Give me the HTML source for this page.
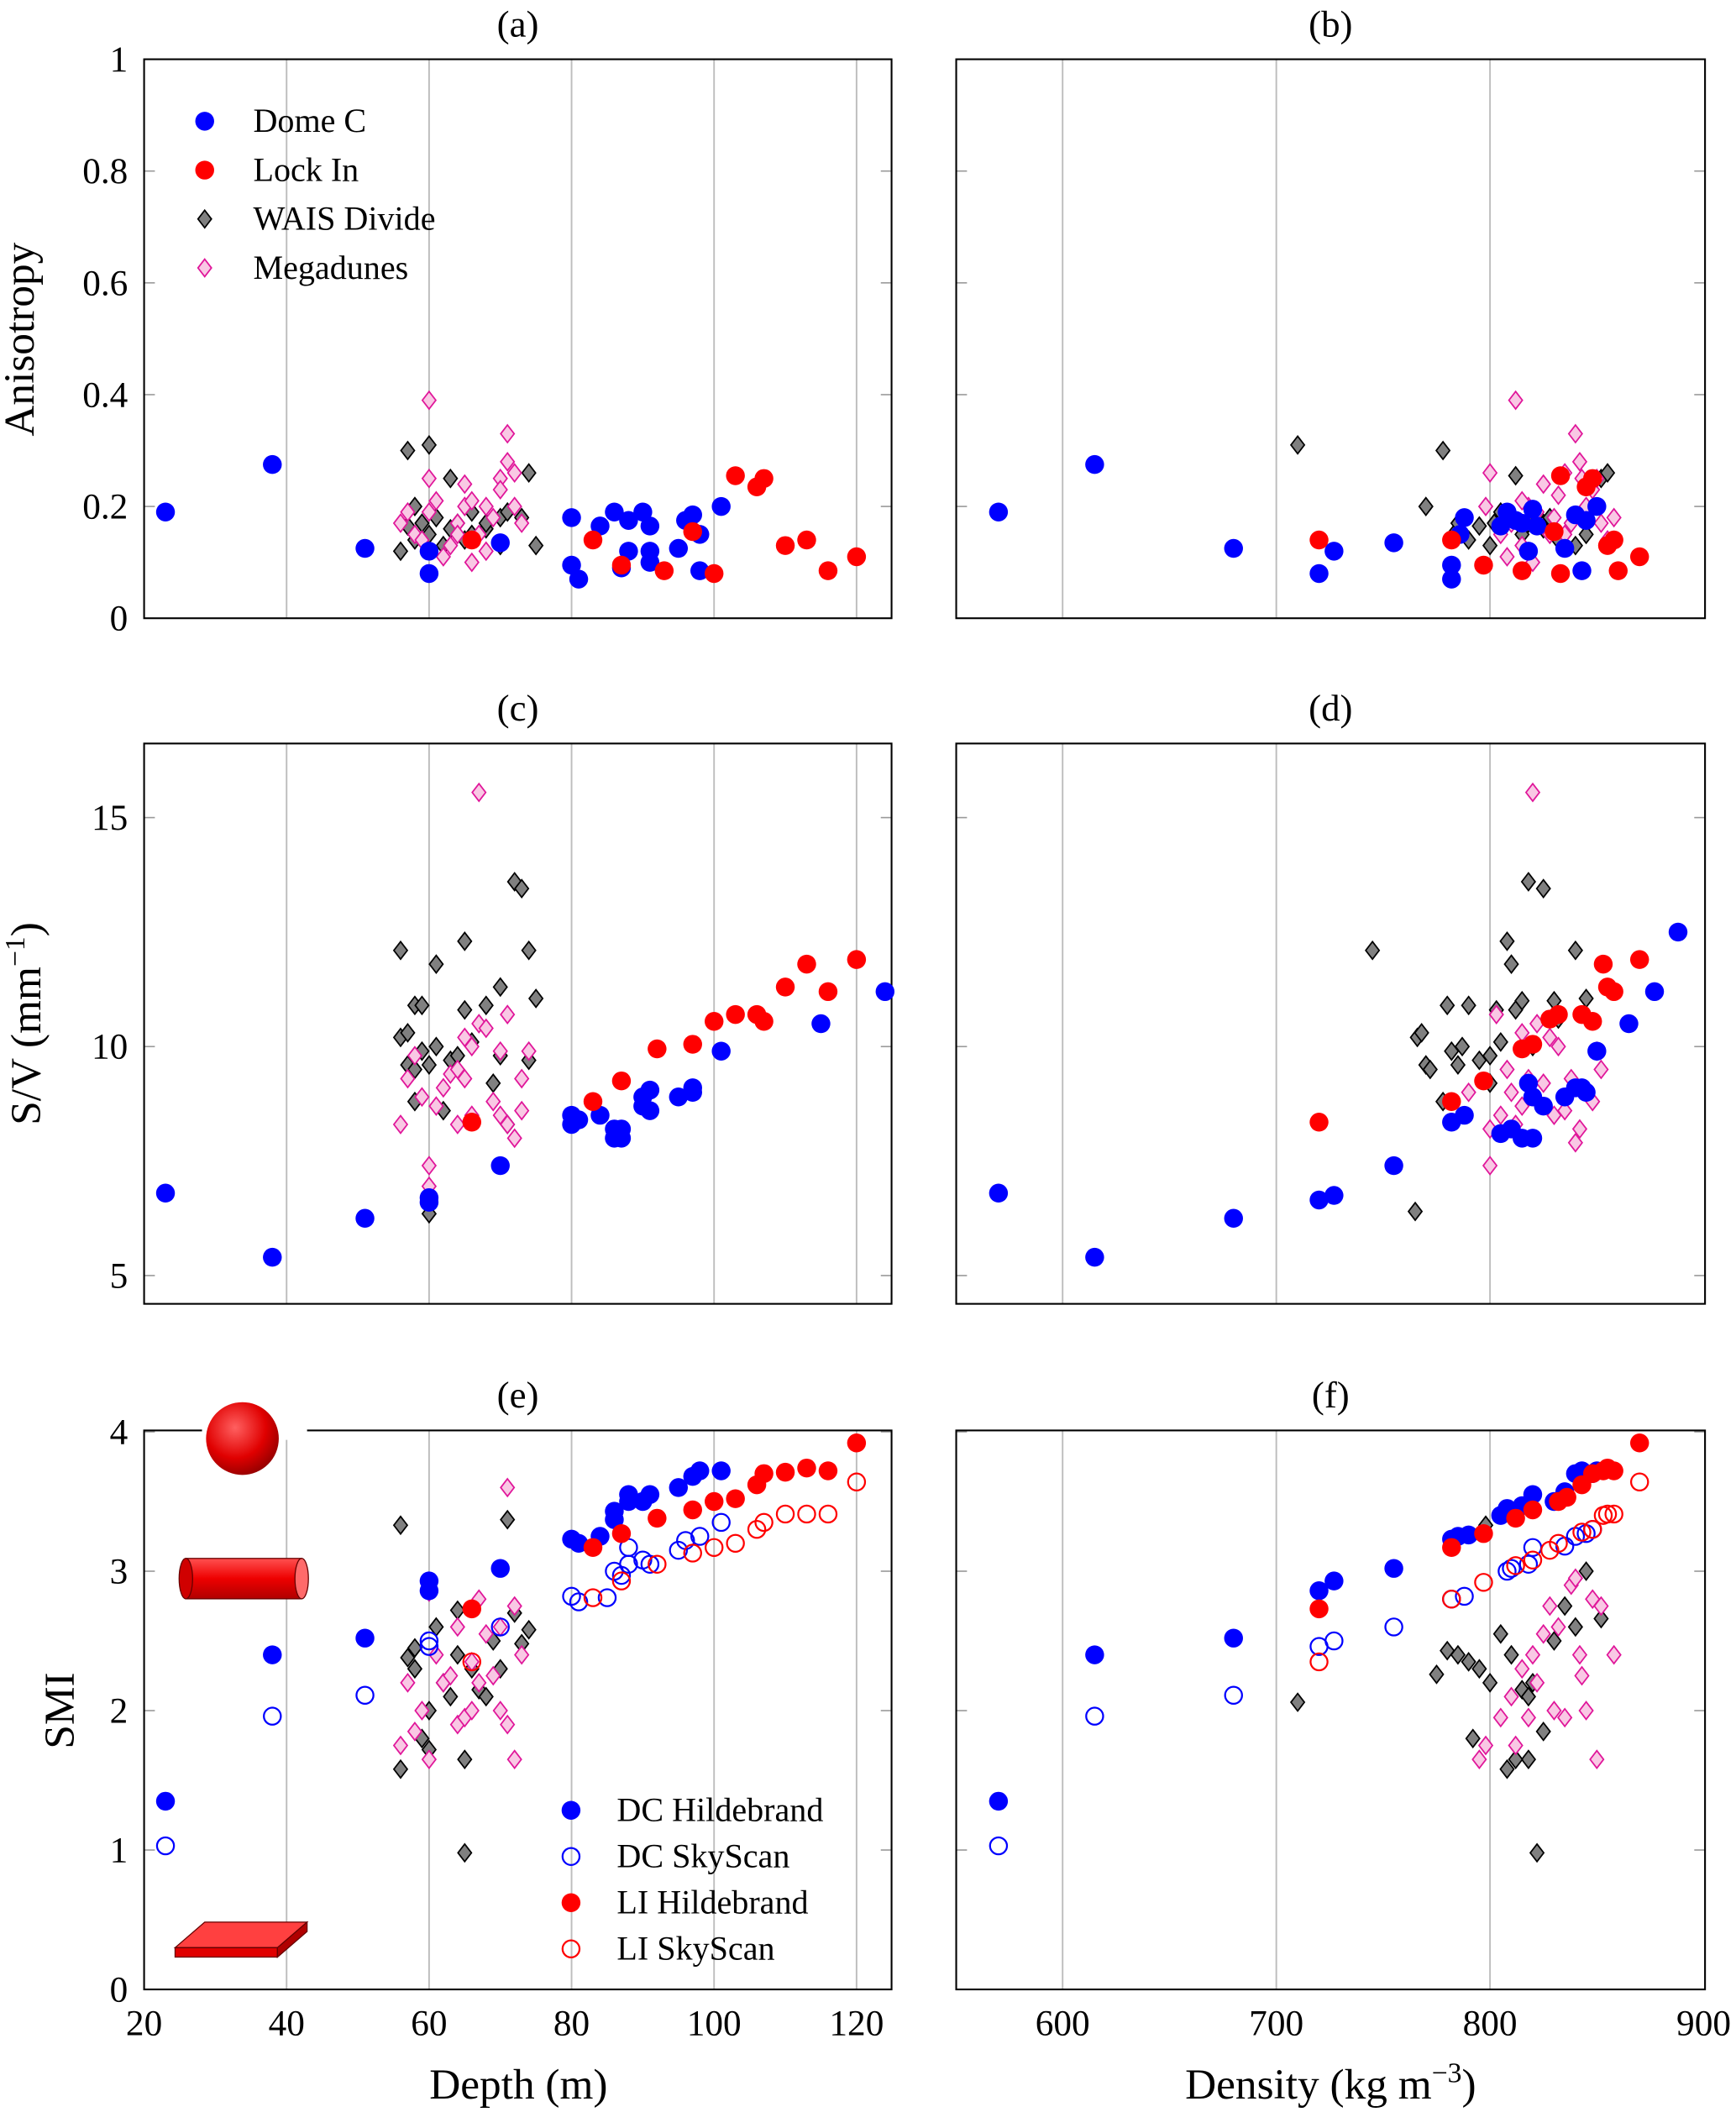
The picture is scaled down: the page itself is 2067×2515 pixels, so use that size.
<!DOCTYPE html>
<html><head><meta charset="utf-8"><style>html,body{margin:0;padding:0;background:#fff}svg{display:block}text{font-family:"Liberation Serif",serif;fill:#000}</style></head>
<body>
<svg id="fig" width="2067" height="2515" viewBox="0 0 1289 1568" preserveAspectRatio="none" xmlns="http://www.w3.org/2000/svg">
<defs>
<radialGradient id="sph" cx="0.4" cy="0.35" r="0.7"><stop offset="0" stop-color="#ff6060"/><stop offset="0.6" stop-color="#e00000"/><stop offset="1" stop-color="#900000"/></radialGradient>
<linearGradient id="cyl" x1="0" y1="0" x2="0" y2="1"><stop offset="0" stop-color="#ff5050"/><stop offset="0.5" stop-color="#ee0000"/><stop offset="1" stop-color="#b00000"/></linearGradient>
</defs>
<g id="layer"></g>
</svg>
<script>
// ---- data (a) anisotropy vs depth ----
const dcDepthA=[23,38,51,60,60,70,80,80,81,84,86,87,88,88,90,91,91,91,95,96,97,98,98,101];
const dcAnisA=[0.19,0.275,0.125,0.12,0.08,0.135,0.18,0.095,0.07,0.165,0.19,0.09,0.175,0.12,0.19,0.12,0.1,0.165,0.125,0.175,0.185,0.085,0.15,0.2];
const liDepthA=[66,83,87,93,97,100,103,106,107,110,113,116,120];
const liAnisA=[0.14,0.14,0.095,0.085,0.155,0.08,0.255,0.235,0.25,0.13,0.14,0.085,0.11];
const waDepthA=[56,57,57,58,58,59,60,60,61,62,63,63,64,65,66,66,68,68,70,70,71,73,74,75];
const waAnisA=[0.12,0.165,0.3,0.2,0.14,0.17,0.31,0.15,0.18,0.13,0.25,0.16,0.17,0.14,0.15,0.19,0.16,0.17,0.18,0.13,0.19,0.18,0.26,0.13];
const mgDepthA=[56,57,58,59,60,60,60,61,62,63,64,65,65,66,66,67,68,69,70,70,71,71,72,72,73,64,68];
const mgAnisA=[0.17,0.19,0.15,0.14,0.39,0.25,0.19,0.21,0.11,0.13,0.17,0.2,0.24,0.1,0.21,0.15,0.12,0.18,0.25,0.23,0.33,0.28,0.26,0.2,0.17,0.15,0.2];
// ---- (b) anisotropy vs density ----
const dcDensB=[570,615,680,720,727,755,782,782,786,788,805,808,812,815,818,820,822,835,840,843,845,850];
const dcAnisB=[0.19,0.275,0.125,0.08,0.12,0.135,0.07,0.095,0.15,0.18,0.165,0.19,0.175,0.17,0.12,0.195,0.165,0.125,0.185,0.085,0.175,0.2];
const liDensB=[720,782,797,815,830,833,833,845,848,855,858,860,870];
const liAnisB=[0.14,0.14,0.095,0.085,0.155,0.08,0.255,0.235,0.25,0.13,0.14,0.085,0.11];
const waDensB=[710,770,778,783,785,790,795,800,802,805,808,810,812,815,818,822,825,828,832,840,845,852,855];
const waAnisB=[0.31,0.2,0.3,0.15,0.17,0.14,0.165,0.13,0.17,0.19,0.18,0.175,0.255,0.15,0.17,0.185,0.16,0.18,0.14,0.13,0.15,0.25,0.26];
const mgDensB=[798,800,805,808,810,812,815,818,820,822,825,828,830,832,835,838,840,842,843,845,848,850,852,855,858,815,835];
const mgAnisB=[0.2,0.26,0.15,0.11,0.17,0.39,0.13,0.2,0.1,0.19,0.24,0.15,0.18,0.22,0.26,0.17,0.33,0.28,0.25,0.2,0.23,0.25,0.17,0.14,0.18,0.21,0.15];
// ---- (c) S/V vs depth ----
const dcDepthC=[23,38,51,60,60,70,80,80,81,84,86,86,87,87,90,90,91,91,95,97,97,101,115,124];
const dcSvC=[6.8,5.4,6.25,6.7,6.6,7.4,8.5,8.3,8.4,8.5,8.0,8.2,8.0,8.2,8.7,8.9,8.6,9.05,8.9,9.1,9.0,9.9,10.5,11.2];
const liDepthC=[66,83,87,92,97,100,103,106,107,110,113,116,120];
const liSvC=[8.35,8.8,9.25,9.95,10.05,10.55,10.7,10.7,10.55,11.3,11.8,11.2,11.9];
const waDepthC=[56,56,57,57,58,58,58,59,59,60,60,61,61,62,63,64,65,65,66,68,69,70,70,71,72,73,74,75,74];
const waSvC=[12.1,10.2,10.3,9.6,10.9,9.5,8.8,10.9,9.9,9.6,6.35,11.8,10.0,8.6,9.7,9.8,12.3,10.8,10.1,10.9,9.2,11.3,9.8,8.3,13.6,13.45,12.1,11.05,9.7];
const mgDepthC=[56,57,58,59,60,60,61,62,63,64,65,65,66,66,67,67,68,69,70,70,71,71,72,73,73,74,64];
const mgSvC=[8.3,9.3,9.8,8.9,7.4,6.95,8.7,9.1,9.4,9.5,10.2,9.3,10.0,8.5,15.55,10.5,10.4,8.8,8.5,9.9,8.3,10.7,8.0,9.3,8.6,9.9,8.3];
// ---- (d) S/V vs density ----
const dcDensD=[570,615,680,720,727,755,782,788,805,810,815,818,820,820,825,835,840,843,845,850,865,877,888];
const dcSvD=[6.8,5.4,6.25,6.65,6.75,7.4,8.35,8.5,8.1,8.2,8.0,9.2,8.0,8.9,8.7,8.9,9.1,9.1,9.0,9.9,10.5,11.2,12.5];
const liDensD=[720,782,797,815,820,828,832,843,848,855,853,858,870];
const liSvD=[8.35,8.8,9.25,9.95,10.05,10.6,10.7,10.7,10.55,11.3,11.8,11.2,11.9];
const waDensD=[745,765,766,768,770,772,778,780,782,785,787,790,795,800,803,805,808,810,812,815,818,825,830,832,840,845,820,800];
const waSvD=[12.1,6.4,10.2,10.3,9.6,9.5,8.8,10.9,9.9,9.6,10.0,10.9,9.7,9.8,10.8,10.1,12.3,11.8,10.8,11.0,13.6,13.45,11.0,10.6,12.1,11.05,10.0,9.2];
const mgDensD=[800,803,805,808,810,812,815,818,820,822,825,828,830,832,835,838,840,842,845,848,850,852,815,800,790];
const mgSvD=[7.4,10.7,8.5,9.5,9.0,8.3,8.7,9.3,15.55,10.5,9.2,10.2,8.5,10.0,8.6,9.3,7.9,8.2,9.0,8.8,9.9,9.5,10.3,8.2,9.0];
// ---- (e) SMI vs depth ----
const dcDepthE=[23,38,51,60,60,70,80,81,84,86,86,88,88,90,91,95,97,98,101];
const dcHildE=[1.35,2.4,2.52,2.93,2.86,3.02,3.23,3.2,3.25,3.43,3.37,3.5,3.55,3.5,3.55,3.6,3.68,3.72,3.72];
const dcDepthSkyE=[23,38,51,60,60,70,80,81,85,86,87,88,88,90,91,95,96,98,101];
const dcSkyE=[1.03,1.96,2.11,2.46,2.5,2.6,2.82,2.78,2.81,3.0,2.97,3.05,3.17,3.08,3.05,3.15,3.22,3.25,3.35];
const liDepthE=[66,83,87,92,97,100,103,106,107,110,113,116,120];
const liHildE=[2.73,3.17,3.27,3.38,3.44,3.5,3.52,3.62,3.7,3.71,3.74,3.72,3.92];
const liSkyE=[2.35,2.81,2.93,3.05,3.13,3.17,3.2,3.3,3.35,3.41,3.41,3.41,3.64];
const waDepthE=[56,56,57,58,58,59,60,60,61,62,63,64,64,65,65,66,67,68,69,70,71,72,73,74];
const waSmiE=[3.33,1.58,2.38,2.3,2.45,1.8,2.0,1.72,2.6,2.2,2.1,2.4,2.72,1.65,0.98,2.3,2.15,2.1,2.5,2.3,3.37,2.7,2.48,2.58];
const mgDepthE=[56,57,58,59,60,60,61,62,63,64,64,65,66,66,67,67,68,69,70,70,71,71,72,72,73];
const mgSmiE=[1.75,2.2,1.85,2.0,2.85,1.65,2.4,2.2,2.25,1.9,2.6,1.95,2.0,2.35,2.8,2.2,2.55,2.25,2.6,2.0,1.9,3.6,1.65,2.75,2.4];
// ---- (f) SMI vs density ----
const dcDensF=[570,615,680,720,727,755,782,785,790,805,808,815,820,830,835,840,843,848,850];
const dcHildF=[1.35,2.4,2.52,2.86,2.93,3.02,3.23,3.25,3.26,3.4,3.45,3.47,3.55,3.5,3.57,3.7,3.72,3.7,3.72];
const dcDensSkyF=[570,615,680,720,727,755,782,788,808,810,818,820,835,840,845,848];
const dcSkyF=[1.03,1.96,2.11,2.46,2.5,2.6,2.8,2.82,3.0,3.02,3.05,3.17,3.18,3.25,3.27,3.3];
const liDensF=[720,782,797,812,820,832,836,843,848,853,855,858,870];
const liHildF=[2.73,3.17,3.27,3.38,3.44,3.5,3.53,3.62,3.7,3.72,3.74,3.72,3.92];
const liDensSkyF=[720,782,797,812,820,828,832,843,848,853,855,858,870];
const liSkyF=[2.35,2.8,2.92,3.04,3.08,3.15,3.2,3.28,3.3,3.4,3.41,3.41,3.64];
const waDensF=[710,780,775,790,785,792,795,798,800,805,808,810,815,818,820,822,825,830,835,840,845,852,818,812];
const waSmiF=[2.06,2.43,2.26,2.35,2.4,1.8,2.3,3.33,2.2,2.55,1.58,2.4,2.15,1.65,2.2,0.98,1.85,2.5,2.75,2.6,3.0,2.66,2.1,1.65];
const mgDensF=[795,798,805,810,812,815,818,820,822,825,828,830,832,835,838,840,842,845,848,850,852,858,843];
const mgSmiF=[1.65,1.75,1.95,2.1,1.75,2.3,1.95,2.4,2.2,2.55,2.75,2.0,2.6,1.95,2.9,2.95,2.4,2.0,2.8,1.65,2.75,2.4,2.25];
const depthTicks=[20,40,60,80,100,120];
const densTicks=[600,700,800,900];
const anisTicks=[0,0.2,0.4,0.6,0.8,1];
const svTicks=[5,10,15];
const smiTicks=[0,1,2,3,4];

const NS='http://www.w3.org/2000/svg';
const L=document.getElementById('layer');
function mk(tag,attrs,parent){const e=document.createElementNS(NS,tag);for(const k in attrs)e.setAttribute(k,attrs[k]);(parent||L).appendChild(e);return e;}
const X0=[107,662],X1=[710,1266];
const R=[[44,459],[552,968],[1062,1477]];
const xDepth=d=>107+(d-20)*5.29;
const xDens=v=>789+(v-600)*1.5867;
const yAnis=a=>459-a*415;
const ySv=s=>947-(s-5)*34;
const ySmi=s=>1477-s*103.5;
const BLUE='#0000ff',RED='#ff0000';

function panel(name,xr,yr,xs,xTicks,ys,yTicks,leftLabels,bottomLabels,title){
  const g=mk('g',{});
  
  
  xTicks.forEach(t=>{const x=xs(t);if(x>xr[0]+1&&x<xr[1]-1){const l=mk('line',{x1:x,x2:x,y1:yr[0],y2:yr[1],stroke:'#bdbdbd','stroke-width':1.2},g);}
    if(bottomLabels){const tx=mk('text',{x:x,y:yr[1]+34,'font-size':27,'text-anchor':'middle'},g);tx.textContent=t;}});
  yTicks.forEach(t=>{const y=ys(t);
    mk('line',{x1:xr[0],x2:xr[0]+8,y1:y,y2:y,stroke:'#999','stroke-width':1},g);
    mk('line',{x1:xr[1]-8,x2:xr[1],y1:y,y2:y,stroke:'#999','stroke-width':1},g);
    if(leftLabels){const tx=mk('text',{x:xr[0]-12,y:y+9,'font-size':27,'text-anchor':'end'},g);tx.textContent=t;}});
  const fr=mk('rect',{x:xr[0],y:yr[0],width:xr[1]-xr[0],height:yr[1]-yr[0],fill:'none',stroke:'#000','stroke-width':1.3},g);
  
  const tt=mk('text',{x:(xr[0]+xr[1])/2,y:yr[0]-17,'font-size':28,'text-anchor':'middle'},g);tt.textContent=title;
  
  return g;
}
function marker(type,x,y,parent){
  let e;
  if(type==='dc')e=mk('circle',{cx:x,cy:y,r:7,fill:BLUE},parent);
  else if(type==='li')e=mk('circle',{cx:x,cy:y,r:7,fill:RED},parent);
  else if(type==='dcs')e=mk('circle',{cx:x,cy:y,r:6.3,fill:'none',stroke:BLUE,'stroke-width':1.4},parent);
  else if(type==='lis')e=mk('circle',{cx:x,cy:y,r:6.3,fill:'none',stroke:RED,'stroke-width':1.4},parent);
  else if(type==='wa')e=mk('polygon',{points:`${x},${y-6.5} ${x+5},${y} ${x},${y+6.5} ${x-5},${y}`,fill:'#808080',stroke:'#000','stroke-width':1.1},parent);
  else e=mk('polygon',{points:`${x},${y-6.5} ${x+5},${y} ${x},${y+6.5} ${x-5},${y}`,fill:'#f9c8e4',stroke:'#e0169a','stroke-width':1.1},parent);
  return e;
}
function series(name,type,xv,yv,xs,ys){
  const g=mk('g',{});
  
  
  xv.forEach((v,i)=>{const m=marker(type,xs(v),ys(yv[i]),g);
    
    });
}
panel('panel-a',X0,R[0],xDepth,depthTicks,yAnis,anisTicks,true,false,'(a)');
panel('panel-b',X1,R[0],xDens,densTicks,yAnis,anisTicks,false,false,'(b)');
panel('panel-c',X0,R[1],xDepth,depthTicks,ySv,svTicks,true,false,'(c)');
panel('panel-d',X1,R[1],xDens,densTicks,ySv,svTicks,false,false,'(d)');
panel('panel-e',X0,R[2],xDepth,depthTicks,ySmi,smiTicks,true,true,'(e)');
panel('panel-f',X1,R[2],xDens,densTicks,ySmi,smiTicks,false,true,'(f)');
series('wais-a','wa',waDepthA,waAnisA,xDepth,yAnis);
series('megadunes-a','mg',mgDepthA,mgAnisA,xDepth,yAnis);
series('domec-a','dc',dcDepthA,dcAnisA,xDepth,yAnis);
series('lockin-a','li',liDepthA,liAnisA,xDepth,yAnis);
series('wais-b','wa',waDensB,waAnisB,xDens,yAnis);
series('megadunes-b','mg',mgDensB,mgAnisB,xDens,yAnis);
series('domec-b','dc',dcDensB,dcAnisB,xDens,yAnis);
series('lockin-b','li',liDensB,liAnisB,xDens,yAnis);
series('wais-c','wa',waDepthC,waSvC,xDepth,ySv);
series('megadunes-c','mg',mgDepthC,mgSvC,xDepth,ySv);
series('domec-c','dc',dcDepthC,dcSvC,xDepth,ySv);
series('lockin-c','li',liDepthC,liSvC,xDepth,ySv);
series('wais-d','wa',waDensD,waSvD,xDens,ySv);
series('megadunes-d','mg',mgDensD,mgSvD,xDens,ySv);
series('domec-d','dc',dcDensD,dcSvD,xDens,ySv);
series('lockin-d','li',liDensD,liSvD,xDens,ySv);
series('wais-e','wa',waDepthE,waSmiE,xDepth,ySmi);
series('megadunes-e','mg',mgDepthE,mgSmiE,xDepth,ySmi);
series('dc-hildebrand-e','dc',dcDepthE,dcHildE,xDepth,ySmi);
series('dc-skyscan-e','dcs',dcDepthSkyE,dcSkyE,xDepth,ySmi);
series('li-hildebrand-e','li',liDepthE,liHildE,xDepth,ySmi);
series('li-skyscan-e','lis',liDepthE,liSkyE,xDepth,ySmi);
series('wais-f','wa',waDensF,waSmiF,xDens,ySmi);
series('megadunes-f','mg',mgDensF,mgSmiF,xDens,ySmi);
series('dc-hildebrand-f','dc',dcDensF,dcHildF,xDens,ySmi);
series('dc-skyscan-f','dcs',dcDensSkyF,dcSkyF,xDens,ySmi);
series('li-hildebrand-f','li',liDensF,liHildF,xDens,ySmi);
series('li-skyscan-f','lis',liDensSkyF,liSkyF,xDens,ySmi);

function legend(name,items,x,yStart,dy,textX){
  const g=mk('g',{});
  
  
  items.forEach((it,i)=>{const y=yStart+i*dy;const m=marker(it[0],x,y,g);
    const t=mk('text',{x:textX,y:y+8,'font-size':25},g);t.textContent=it[1];
    });
}
legend('legend-top',[['dc','Dome C'],['li','Lock In'],['wa','WAIS Divide'],['mg','Megadunes']],152,90,36.3,188);
legend('legend-bottom',[['dc','DC Hildebrand'],['dcs','DC  SkyScan'],['li','LI Hildebrand'],['lis','LI SkyScan']],424,1344,34.3,458);

mk('rect',{x:150,y:1055,width:78,height:14,fill:'#fff'});
const sp=mk('circle',{cx:180,cy:1068,r:27,fill:'url(#sph)'});

const cy=mk('g',{});

mk('rect',{x:138,y:1157,width:86,height:30,fill:'url(#cyl)',stroke:'#600','stroke-width':0.8},cy);
mk('ellipse',{cx:138,cy:1172,rx:5,ry:15,fill:'#d00000',stroke:'#600','stroke-width':0.8},cy);
mk('ellipse',{cx:224,cy:1172,rx:5,ry:15,fill:'#ff6a6a',stroke:'#600','stroke-width':0.8},cy);
const pl=mk('g',{});

mk('polygon',{points:'130,1446 152,1427 228,1427 206,1446',fill:'#ff4040',stroke:'#600','stroke-width':0.8},pl);
mk('polygon',{points:'130,1446 206,1446 206,1453 130,1453',fill:'#e00000',stroke:'#600','stroke-width':0.8},pl);
mk('polygon',{points:'206,1446 228,1427 228,1434 206,1453',fill:'#b00000',stroke:'#600','stroke-width':0.8},pl);

function label(name,txt,x,y,rot,size){const t=mk('text',{x:x,y:y,'font-size':size,'text-anchor':'middle',transform:rot?`rotate(-90 ${x} ${y})`:''});t.innerHTML=txt;
  }
label('y-axis-title-anisotropy','Anisotropy',25,252,true,32);
label('y-axis-title-sv','S/V (mm<tspan dy="-12" font-size="21">−1</tspan><tspan dy="12">)</tspan>',30,760,true,32);
label('y-axis-title-smi','SMI',55,1270,true,32);
label('x-axis-title-depth','Depth (m)',385,1558,false,32);
label('x-axis-title-density','Density (kg m<tspan dy="-12" font-size="21">−3</tspan><tspan dy="12">)</tspan>',988,1558,false,32);
</script>
</body></html>
